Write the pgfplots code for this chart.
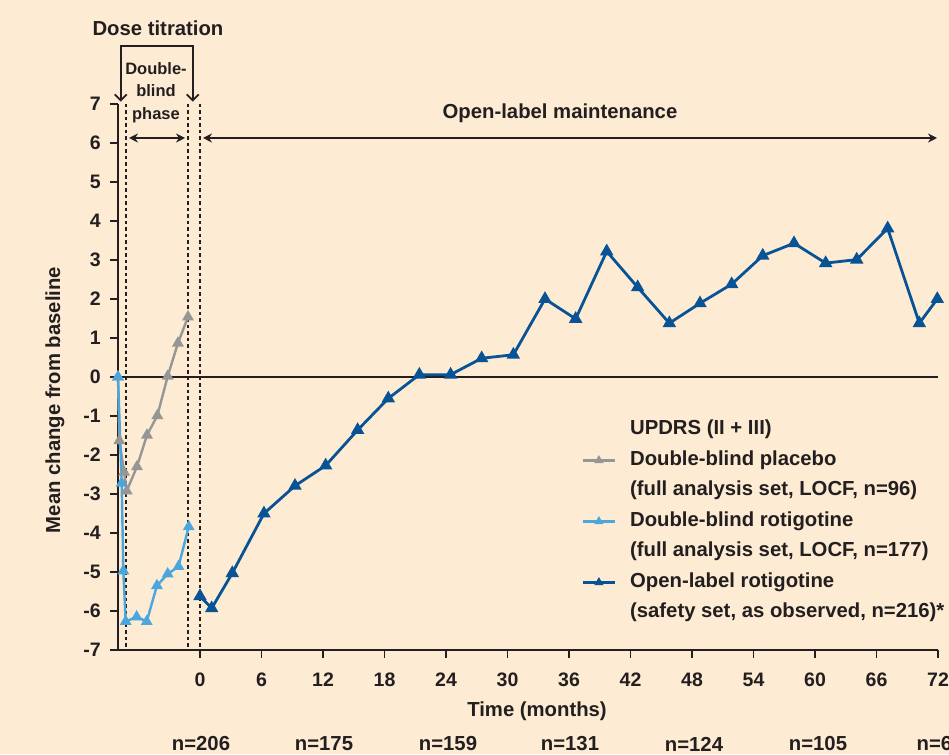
\documentclass[border=0pt]{standalone}
\usepackage{pgfplots}
\pgfplotsset{compat=1.18}
\usepackage{fontspec}
\setmainfont{Liberation Sans}
\usetikzlibrary{arrows.meta}
\definecolor{bgc}{RGB}{253,236,211}
\definecolor{axc}{RGB}{35,31,32}
\definecolor{gry}{RGB}{150,150,150}
\definecolor{lblue}{RGB}{74,166,220}
\definecolor{dblue}{RGB}{8,82,150}
\newcommand\lbf{\fontsize{20.3}{24}\selectfont\bfseries}
\newcommand\tkf{\fontsize{19.5}{23}\selectfont\bfseries}
\newcommand\smf{\fontsize{16.5}{22.5}\selectfont\bfseries}
\begin{document}
\begin{tikzpicture}
\path[use as bounding box] (0pt,0pt) rectangle (949pt,754pt);
\fill[bgc] (0pt,0pt) rectangle (949pt,754pt);
\begin{axis}[
  at={(118pt,104pt)}, anchor=south west,
  x=10.25pt, y=39pt,
  xmin=-8, xmax=72, ymin=-7, ymax=7,
  axis lines=left,
  axis line style={-, axc, line width=1.4pt},
  clip=false,
  xtick={0,6,...,72},
  xticklabels={},
  ytick={-7,-6,...,7},
  yticklabels={-7,-6,-5,-4,-3,-2,-1,0,1,2,3,4,5,6,7},
  tick align=outside,
  major tick length=8pt,
  tick style={axc, line width=1.4pt},
  ticklabel style={font=\tkf, text=axc},
  yticklabel style={inner sep=2pt, xshift=-7pt},
  legend cell align=left,
  legend image code/.code={
    \draw[mark repeat=2, mark phase=2, #1] plot coordinates {(0pt,0pt) (16pt,0pt) (32pt,0pt)};
  },
  legend style={
    at={(0.5655,0.42)}, anchor=north west,
    draw=none, fill=none, inner sep=0pt, outer sep=0pt,
    row sep=12pt,
    nodes={inner sep=0pt, text height=14pt, text depth=4.5pt, font=\lbf, text=axc},
    /tikz/every odd column/.append style={column sep=14pt},
  },
]
\addlegendimage{empty legend}
\addlegendentry{UPDRS (II + III)}
\addlegendimage{gry, line width=2.4pt, mark=triangle*, mark size=3pt}
\addlegendentry{Double-blind placebo}
\addlegendimage{empty legend}
\addlegendentry{(full analysis set, LOCF, n=96)}
\addlegendimage{lblue, line width=2.4pt, mark=triangle*, mark size=3pt}
\addlegendentry{Double-blind rotigotine}
\addlegendimage{empty legend}
\addlegendentry{(full analysis set, LOCF, n=177)}
\addlegendimage{dblue, line width=2.4pt, mark=triangle*, mark size=3pt}
\addlegendentry{Open-label rotigotine}
\addlegendimage{empty legend}
\addlegendentry{(safety set, as observed, n=216)*}

% zero line
\addplot[forget plot, axc, line width=1.4pt] coordinates {(-8,0) (72,0)};
% dashed phase lines
\draw[axc, line width=1.5pt, dash pattern=on 3.5pt off 3pt] (axis cs:-7.22,7) -- (axis cs:-7.22,-7);
\draw[axc, line width=1.5pt, dash pattern=on 3.5pt off 3pt] (axis cs:-1.17,7) -- (axis cs:-1.17,-7);
\draw[axc, line width=1.5pt, dash pattern=on 3.5pt off 3pt] (axis cs:0,7) -- (axis cs:0,-7);

% Double-blind placebo
\addplot[forget plot, gry, line width=2.4pt, mark=triangle*, mark size=4.5pt] coordinates {
(-8,0) (-7.87,-1.63) (-7.4,-2.44) (-7.15,-2.92) (-6.15,-2.3) (-5.17,-1.49)
(-4.16,-0.99) (-3.15,0.02) (-2.15,0.87) (-1.17,1.54)};
% Double-blind rotigotine
\addplot[forget plot, lblue, line width=2.4pt, mark=triangle*, mark size=4.5pt] coordinates {
(-8,0) (-7.64,-2.72) (-7.48,-4.97) (-7.25,-6.27) (-6.18,-6.15) (-5.2,-6.27)
(-4.2,-5.35) (-3.15,-5.05) (-2.1,-4.86) (-1.1,-3.84)};
% Open-label rotigotine
\addplot[forget plot, dblue, line width=2.8pt, mark=triangle*, mark size=5pt] coordinates {
(0,-5.62) (1.14,-5.93) (3.15,-5.03) (6.24,-3.5) (9.27,-2.79) (12.26,-2.27)
(15.38,-1.36) (18.37,-0.55) (21.4,0.06) (24.45,0.06) (27.48,0.48) (30.57,0.57)
(33.66,2.0) (36.65,1.49) (39.68,3.22) (42.7,2.3) (45.79,1.38) (48.78,1.89)
(51.87,2.38) (54.9,3.11) (57.95,3.43) (61.04,2.92) (64.07,3.01) (67.09,3.81)
(70.18,1.38) (71.93,2.0)};
\end{axis}

% x tick labels
\foreach \m [count=\i from 0] in {0,6,12,18,24,30,36,42,48,54,60,66,72} {
  \node[font=\tkf, text=axc, inner sep=0pt] at ({200pt+61.5pt*\i},74pt) {\m};
}
% annotations (absolute positions)
\draw[axc, line width=1.8pt, {Straight Barb[length=6pt,width=12pt]}-{Straight Barb[length=6pt,width=12pt]}]
  (120.7pt,652.3pt) -- (120.7pt,708pt) -- (192.7pt,708pt) -- (192.7pt,652.3pt);
\draw[axc, line width=1.8pt, {Stealth[length=9pt,width=9pt]}-{Stealth[length=9pt,width=9pt]}]
  (129pt,616pt) -- (185pt,616pt);
\draw[axc, line width=1.8pt, {Stealth[length=9pt,width=9pt]}-{Stealth[length=9pt,width=9pt]}]
  (203pt,616pt) -- (937pt,616pt);
\node[font=\lbf, text=axc] at (158pt,726pt) {Dose titration};
\node[font=\smf, text=axc, align=center] at (156pt,661.5pt) {Double-\\blind\\phase};
\node[font=\lbf, text=axc] at (560pt,641pt) {Open-label maintenance};
\node[font=\lbf, text=axc, rotate=90] at (55pt,354pt) {Mean change from baseline};
\node[font=\lbf, text=axc] at (537pt,43pt) {Time (months)};
\node[font=\lbf, text=axc] at (201pt,10pt) {n=206};
\node[font=\lbf, text=axc] at (324pt,10pt) {n=175};
\node[font=\lbf, text=axc] at (448pt,10pt) {n=159};
\node[font=\lbf, text=axc] at (570pt,10pt) {n=131};
\node[font=\lbf, text=axc] at (694pt,10pt) {n=124};
\node[font=\lbf, text=axc] at (818pt,10pt) {n=105};
\node[font=\lbf, text=axc] at (940pt,10pt) {n=61};
\end{tikzpicture}
\end{document}
